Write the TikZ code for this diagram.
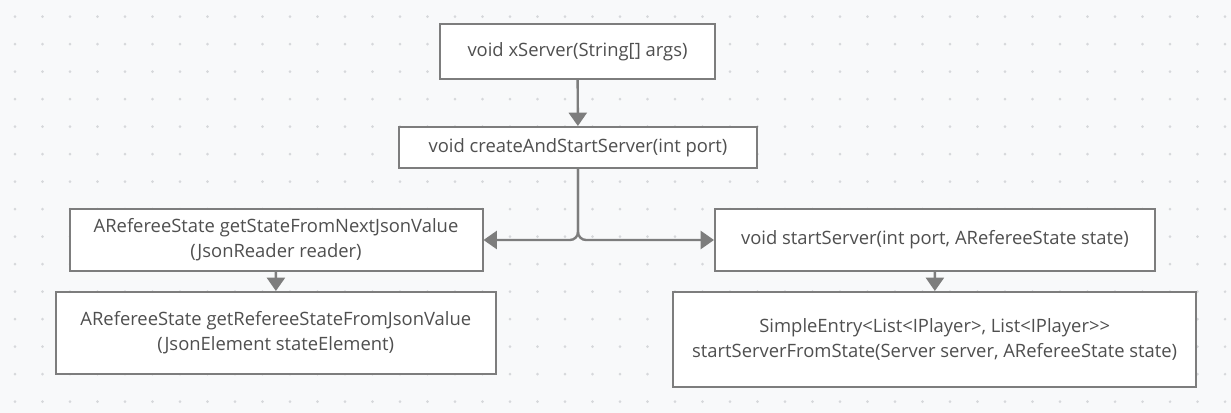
\documentclass[tikz,border=0pt]{standalone}
\usepackage{fontspec}
\setmainfont{Open Sans}
\usetikzlibrary{arrows.meta}
\definecolor{canvas}{HTML}{F8F9FA}
\definecolor{griddot}{HTML}{D6D8DB}
\definecolor{edgegray}{HTML}{7D7D7D}
\definecolor{textgray}{HTML}{4F4F4F}
\tikzset{
	method/.style={draw=edgegray,fill=white,line width=1.5pt,inner sep=0pt,align=center,
		text=textgray,font=\fontsize{13.8}{18.75}\selectfont},
	call/.style={draw=edgegray,line width=1.8pt,-{Triangle[width=13.5pt,length=10pt]}}
}
\begin{document}
\begin{tikzpicture}[x=0.75pt,y=-0.75pt]
		\fill[color=canvas] (0,0) rectangle (1231,413);
		\foreach \i in {0,...,44}
			\foreach \j in {0,...,14}
				\fill[color=griddot] (15+27.5*\i,16.7+27.5*\j) circle[radius=1.1pt];
		\node[method,minimum width=206.25pt,minimum height=41.25pt] (xserver) at (577.5,51.5) {void xServer(String[] args)};
		\node[method,minimum width=268.5pt,minimum height=30.75pt] (create) at (578,147.5) {void createAndStartServer(int port)};
		\node[method,minimum width=309.75pt,minimum height=46.5pt] (nextjson) at (276,240) {ARefereeState getStateFromNextJsonValue\\(JsonReader reader)};
		\node[method,minimum width=330pt,minimum height=61.5pt] (fromjson) at (275.8,333) {ARefereeState getRefereeStateFromJsonValue\\(JsonElement stateElement)};
		\node[method,minimum width=330pt,minimum height=46.5pt] (start) at (935,240) {void startServer(int port, ARefereeState state)};
		\node[method,minimum width=392.25pt,minimum height=71.25pt] (fromstate) at (934.7,339.5) {SimpleEntry<List<IPlayer>, List<IPlayer>{}>\\startServerFromState(Server server, ARefereeState state)};
		\draw[call] (xserver) -- (create);
		\draw[call,rounded corners=6] (create.south) |- (nextjson.east);
		\draw[call,rounded corners=6] (create.south) |- (start.west);
		\draw[call] (nextjson) -- (fromjson);
		\draw[call] (start) -- (fromstate);
	\end{tikzpicture}
\end{document}
